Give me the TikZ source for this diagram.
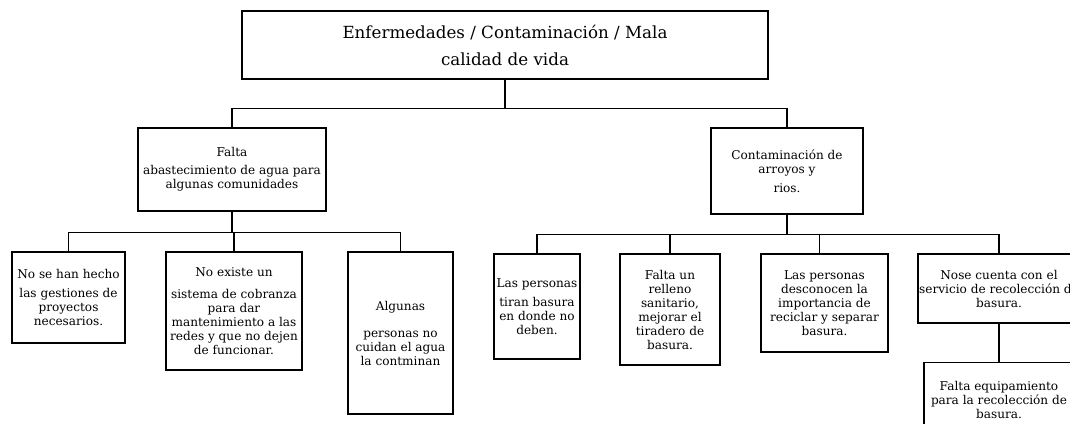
\documentclass[tikz,border=0pt]{standalone}
\usepackage{fontspec}
\setmainfont{DejaVu Serif}
\tikzset{
  box/.style={draw, line width=1.6pt, align=center, inner sep=1pt},
  link/.style={line width=1.1pt},
  small/.style={font=\fontsize{12.1}{14}\selectfont}
}
\begin{document}
\begin{tikzpicture}[x=1pt, y=-1pt]
    \useasboundingbox (0,0) rectangle (1070,423);
    \clip (0,0) rectangle (1070,423);

    % Top box
    \node[box, minimum width=526pt, minimum height=68pt, font=\fontsize{16.7}{27}\selectfont] (efecto) at (505,45)
        {Enfermedades / Contaminación / Mala\\ calidad de vida};

    % Second level
    \node[box, small, minimum width=188pt, minimum height=83pt] (agua) at (232,169.5)
        {Falta\\[4pt] abastecimiento de agua para\\ algunas comunidades};
    \node[box, small, minimum width=152pt, minimum height=86pt] (arroyos) at (787,171)
        {Contaminación de\\ arroyos y\\[5pt] rios.};

    % Third level, left branch
    \node[box, small, minimum width=113pt, minimum height=91pt] (gestiones) at (68.5,297.5)
        {No se han hecho\\[5pt] las gestiones de\\ proyectos\\ necesarios.};
    \node[box, small, minimum width=136pt, minimum height=118pt] (cobranza) at (234,311)
        {No existe un\\[8pt] sistema de cobranza\\ para dar\\ mantenimiento a las\\ redes y que no dejen\\ de funcionar.};
    \node[box, small, minimum width=105pt, minimum height=162pt] (cuidado) at (400.5,333)
        {Algunas\\[13pt] personas no\\ cuidan el agua\\ la contminan};

    % Third level, right branch
    \node[box, small, minimum width=86pt, minimum height=105pt] (basura) at (537,306.5)
        {Las personas\\[5pt] tiran basura\\ en donde no\\ deben.};
    \node[box, small, minimum width=100pt, minimum height=111pt] (relleno) at (670,309.5)
        {Falta un\\ relleno\\ sanitario,\\ mejorar el\\ tiradero de\\ basura.};
    \node[box, small, minimum width=127pt, minimum height=98pt] (reciclar) at (824.5,303)
        {Las personas\\ desconocen la\\ importancia de\\ reciclar y separar\\ basura.};
    \node[box, small, minimum width=162pt, minimum height=69pt] (servicio) at (999,288.5)
        {Nose cuenta con el\\ servicio de recolección de\\ basura.};
    \node[box, small, minimum width=150pt, minimum height=75pt] (equipo) at (999,400)
        {Falta equipamiento\\ para la recolección de\\ basura.};

    % Connectors
    \draw[link] (efecto.south) -- ++(0,29) coordinate (bus1);
    \draw[link] (agua.north) |- (bus1) -| (arroyos.north);

    \draw[link] (agua.south) -- ++(0,21) coordinate (bus2);
    \draw[link] (gestiones.north) |- (bus2) -| (cuidado.north);
    \draw[link] (bus2) -| (cobranza.north);

    \draw[link] (arroyos.south) -- ++(0,20) coordinate (bus3);
    \draw[link] (basura.north) |- (bus3) -| (servicio.north);
    \draw[link] (bus3) -| (relleno.north);
    \draw[link] (bus3) -| ([xshift=-5pt]reciclar.north);
    \draw[link] (servicio) -- (equipo);
\end{tikzpicture}
\end{document}
